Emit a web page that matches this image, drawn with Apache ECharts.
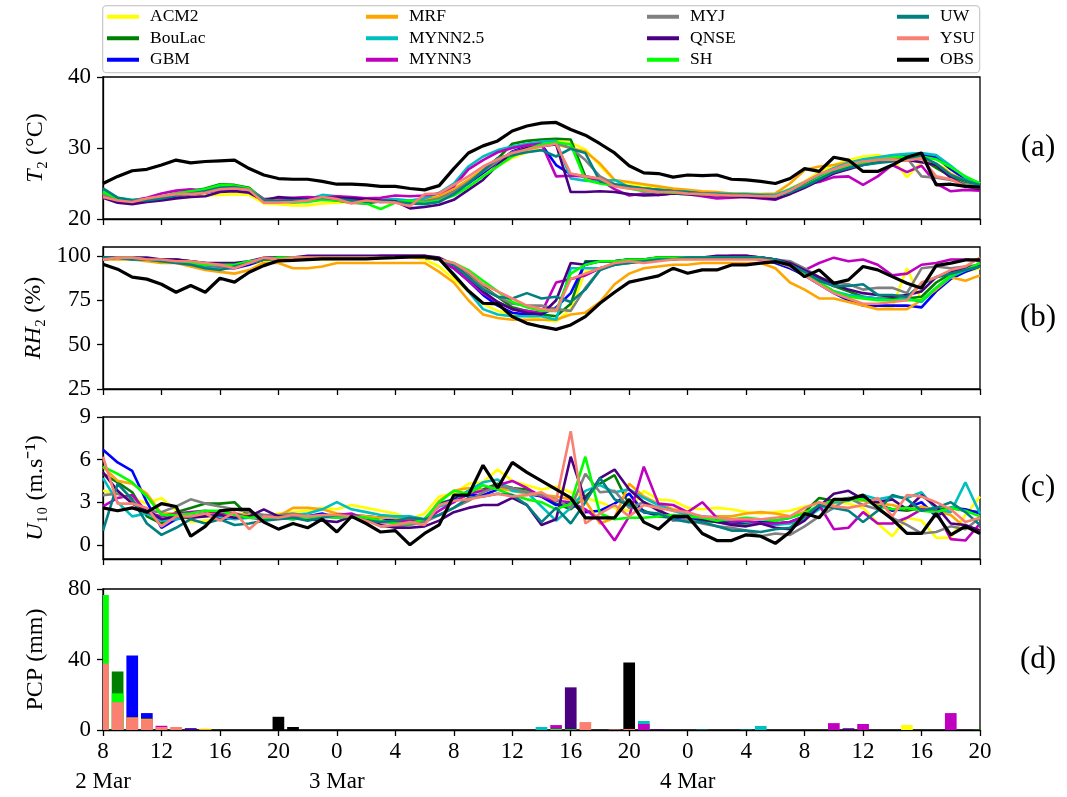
<!DOCTYPE html>
<html><head><meta charset="utf-8">
<script src="https://cdn.jsdelivr.net/npm/echarts@6/dist/echarts.min.js"></script>
<style>html,body{margin:0;padding:0;background:#fff}#c{width:1067px;height:797px}</style>
</head><body><div id="c"></div><script>
// ---------- data ----------
const hoursSinceStart = [0,1,2,3,4,5,6,7,8,9,10,11,12,13,14,15,16,17,18,19,20,21,22,23,24,25,26,27,28,29,30,31,32,33,34,35,36,37,38,39,40,41,42,43,44,45,46,47,48,49,50,51,52,53,54,55,56,57,58,59,60];
const xTickLabels = ['8','12','16','20','0','4','8','12','16','20','0','4','8','12','16','20'];
const dateLabels = {0:'2 Mar',16:'3 Mar',40:'4 Mar'};
const modelNames = ['ACM2','BouLac','GBM','MRF','MYNN2.5','MYNN3','MYJ','QNSE','SH','UW','YSU'];
const seriesColors = {'ACM2':'#ffff00','BouLac':'#008000','GBM':'#0000ff','MRF':'#ffa500','MYNN2.5':'#00bfbf','MYNN3':'#bf00bf','MYJ':'#808080','QNSE':'#4b0082','SH':'#00ff00','UW':'#008080','YSU':'#fa8072','OBS':'#000000'};

// T2 (°C)
const T_OBS = [25.0,26.0,26.8,27.0,27.6,28.3,27.9,28.1,28.2,28.3, 27.1,26.2,25.7,25.6,25.6,25.3,24.9,24.9,24.8,24.6, 24.6,24.3,24.1,24.7,27.1,29.3,30.3,31.0,32.4,33.1, 33.5,33.6,32.6,31.8,30.6,29.3,27.5,26.5,26.4,25.9, 26.2,26.1,26.2,25.6,25.5,25.3,25.0,25.7,27.1,26.7, 28.7,28.3,26.7,26.7,27.6,28.7,29.3,24.8,24.9,24.6, 24.5];
const T_ACM2 = [23.0,22.5,22.4,22.6,22.8,23.0,23.1,23.3,23.4,23.5, 23.4,22.2,22.1,21.9,21.9,22.2,22.3,22.4,22.5,22.6, 22.5,22.5,22.9,23.3,24.2,25.2,26.4,27.5,28.6,29.4, 30.2,31.0,30.7,29.8,27.5,25.4,25.0,24.6,24.3,24.1, 24.0,23.6,23.5,23.4,23.4,23.3,23.4,24.3,25.3,26.6, 27.6,28.3,28.8,29.0,28.5,25.9,28.0,27.6,27.0,25.8, 25.0];
const T_BouLac = [24.0,22.9,22.6,22.7,23.0,23.6,23.9,24.3,24.9,24.8, 24.4,22.6,22.7,22.4,22.5,22.8,22.6,22.3,22.2,22.5, 22.6,22.4,22.8,23.0,24.0,25.4,26.8,28.5,30.6,31.0, 31.2,31.3,31.2,26.0,25.3,24.8,24.5,24.3,24.1,24.0, 23.9,23.7,23.6,23.5,23.4,23.3,23.3,24.0,24.8,25.6, 26.5,27.4,27.8,28.0,28.2,28.3,28.5,27.2,26.0,25.2, 24.9];
const T_GBM = [23.3,22.6,22.4,22.6,22.8,23.2,23.5,23.7,24.1,24.1, 23.9,22.5,22.6,22.6,22.7,22.9,22.8,22.6,22.5,22.4, 22.5,22.3,22.2,23.0,23.9,25.0,26.5,28.0,29.5,30.2, 30.5,27.6,26.3,26.0,25.6,24.8,24.4,24.2,24.0,23.8, 23.7,23.6,23.5,23.4,23.3,23.3,23.2,23.8,24.8,25.9, 27.0,27.6,27.9,28.2,28.6,28.9,29.1,28.7,27.0,25.6, 24.9];
const T_MRF = [23.6,22.8,22.5,22.7,23.0,23.3,23.6,23.9,24.4,24.5, 24.2,22.6,22.5,22.4,22.6,22.9,22.8,22.6,22.5,22.5, 22.6,22.4,22.6,23.2,24.2,25.5,27.0,28.3,29.3,30.0, 30.4,30.5,30.0,29.5,27.8,25.5,25.2,24.9,24.6,24.3, 24.1,23.9,23.8,23.6,23.6,23.5,23.6,25.0,26.9,27.4, 27.6,28.0,28.3,28.6,28.7,28.7,28.5,27.8,26.4,25.4, 25.0];
const T_MYNN25 = [23.9,23.0,22.7,22.8,23.1,23.6,23.9,24.2,24.6,24.5, 24.3,22.8,22.6,22.5,22.7,23.4,23.2,22.8,22.6,22.7, 22.8,22.6,22.9,23.7,25.0,27.4,28.8,29.7,30.2,30.6, 30.9,31.0,25.7,25.4,25.3,25.5,24.5,24.3,24.1,23.9, 23.8,23.6,23.6,23.5,23.5,23.4,23.4,24.2,25.2,26.2, 27.2,27.9,28.4,28.7,29.0,29.2,29.3,29.0,27.5,25.8, 25.0];
const T_MYNN3 = [23.2,22.7,22.6,23.0,23.6,24.0,24.2,24.0,24.3,24.4, 24.2,22.8,22.9,23.0,23.1,23.0,23.2,23.1,22.9,23.0, 23.3,23.2,23.3,23.6,24.6,27.0,28.3,29.4,30.0,30.4, 30.6,26.0,26.1,26.0,25.5,24.2,23.3,23.6,23.4,23.6, 23.5,23.2,22.9,23.0,23.1,22.9,22.7,23.6,24.9,25.2, 25.9,26.0,24.8,26.0,27.6,26.6,27.5,25.0,23.9,24.1, 24.0];
const T_MYJ = [23.5,22.8,22.5,22.7,23.0,23.4,23.6,23.8,24.2,24.3, 24.0,22.7,22.6,22.5,22.6,22.9,22.7,22.5,22.4,22.6, 22.5,22.4,22.5,22.9,23.8,25.2,26.7,28.1,29.4,30.0, 30.4,30.7,30.0,28.3,26.0,24.9,24.5,24.2,24.0,23.9, 23.8,23.6,23.5,23.5,23.3,23.3,23.2,23.6,24.5,25.6, 26.6,27.3,27.8,28.1,28.4,28.6,26.0,25.8,25.5,24.9, 24.6];
const T_QNSE = [23.0,22.3,22.1,22.4,22.6,22.9,23.1,23.2,23.8,23.9, 23.7,22.6,23.1,22.9,22.8,22.8,23.0,22.9,22.8,22.6, 22.5,21.5,21.7,22.0,22.7,24.1,25.5,27.6,29.3,30.0, 30.3,30.5,23.8,23.8,23.9,23.8,23.5,23.3,23.4,23.6, 23.5,23.4,23.3,23.2,23.1,23.0,22.8,23.5,24.4,25.4, 26.4,27.0,27.6,28.0,28.4,28.3,28.0,27.6,25.8,24.6, 24.2];
const T_SH = [23.8,22.9,22.6,22.8,23.2,23.6,23.9,24.2,24.8,24.7, 24.3,22.6,22.5,22.3,22.4,22.7,22.6,22.4,22.2,21.4, 22.3,22.6,22.3,22.6,23.3,24.5,26.0,27.4,28.8,29.8, 30.5,30.8,30.5,25.5,25.0,24.7,24.3,23.9,23.8,23.7, 23.6,23.5,23.4,23.4,23.3,23.3,23.2,23.8,24.7,25.8, 26.8,27.5,27.9,28.3,28.6,28.8,28.8,28.4,27.3,26.0, 25.0];
const T_UW = [24.3,23.0,22.6,22.6,22.9,23.3,23.6,23.9,24.4,24.5, 24.1,22.6,22.5,22.6,22.7,23.0,22.8,22.6,22.4,22.5, 22.4,22.2,22.1,22.4,23.5,25.0,26.8,28.6,29.0,29.4, 29.7,28.8,29.9,29.3,25.3,24.9,24.6,24.3,24.1,23.9, 23.8,23.6,23.5,23.4,23.4,23.3,23.2,23.8,24.6,25.6, 26.6,27.2,27.6,27.9,28.1,28.4,28.8,27.8,26.2,25.4, 24.8];
const T_YSU = [23.1,22.6,22.4,22.9,23.2,23.5,23.5,23.7,24.2,24.3, 24.1,22.3,22.3,22.4,22.6,23.1,22.8,22.2,22.6,22.4, 22.3,21.8,23.5,23.6,24.8,26.0,27.4,28.4,29.3,29.8, 30.2,30.6,26.4,26.0,25.7,24.6,24.3,24.1,23.8,23.8, 23.6,23.5,23.4,23.3,23.3,23.2,23.2,24.0,25.2,26.3, 27.0,27.7,28.1,28.3,28.4,28.2,28.6,26.0,25.6,24.6, 24.4];

// RH2 (%)
const RH_OBS = [95.3,92.5,88.0,86.9,84.0,79.5,83.3,79.5,87.4,85.2, 90.8,94.5,97.2,97.5,97.9,98.3,98.3,98.3,98.3,98.7, 99.0,99.4,99.4,98.3,89.3,80.3,73.3,73.0,65.8,62.0, 60.1,58.6,61.1,65.8,73.3,79.5,85.2,87.0,88.7,93.0, 90.2,92.1,92.1,94.9,94.9,95.9,96.8,94.9,88.3,92.1, 84.6,86.5,94.0,92.1,88.3,84.6,81.8,94.5,95.9,97.7, 97.7];
const RH_ACM2 = [98,99,99,98,97,97,96,95,94,93, 95,97,98,98,98,98,98,99,99,99, 99,99,98,94,87,80,73,69,67,66, 64,63,70,91,93,95,96,97,98,98, 98,98,99,99,99,98,96,93,90,85, 80,76,73,72,71,93,75,80,88,91, 93];
const RH_BouLac = [99,99,99,98,98,98,97,96,95,95, 96,98,99,99,99,99,99,99,99,99, 99,99,99,98,95,90,83,77,71,69, 67,66,73,97,97,97,98,98,99,99, 99,99,99,99,99,98,97,94,91,87, 83,80,77,76,76,76,77,85,90,93, 95];
const RH_GBM = [99,99,99,98,97,97,96,94,93,93, 95,98,99,99,99,99,99,99,99,99, 99,99,99,98,93,86,78,72,68,67, 67,71,79,96,97,97,98,98,98,99, 99,99,99,99,99,98,96,93,89,84, 79,75,72,72,72,72,71,80,87,91, 94];
const RH_MRF = [98,98,98,97,96,96,94,92,91,90, 92,96,96,93,93,94,96,96,96,96, 96,96,96,91,85,75,67,65,64,64, 64,64,67,68,74,84,90,93,94,95, 95,96,96,96,96,96,93,85,81,76, 76,74,72,70,70,70,75,81,88,86, 89];
const RH_MYNN25 = [99,99,98,98,97,97,96,94,93,94, 96,98,99,99,99,99,99,99,99,99, 99,99,99,98,90,80,70,67,66,66, 66,64,93,93,93,95,96,97,98,98, 99,99,99,99,99,99,98,95,90,85, 80,78,77,76,75,76,74,82,88,92, 94];
const RH_MYNN3 = [98,99,99,98,98,97,96,95,94,95, 96,98,99,99,99,99,99,99,99,100, 100,100,100,98,93,86,79,74,70,69, 68,85,87,89,93,95,97,98,98,99, 99,99,99,100,100,99,98,96,92,96, 99,97,98,95,89,90,95,96,98,98, 97];
const RH_MYJ = [99,99,99,98,98,98,97,95,94,94, 96,98,99,99,99,99,99,99,99,99, 99,99,99,98,95,89,82,77,73,72, 72,70,69,82,92,96,97,97,98,98, 99,99,99,99,99,99,98,97,93,88, 85,84,81,82,82,79,93,94,93,94, 95];
const RH_QNSE = [99,99,99,99,98,98,97,96,96,96, 97,99,99,99,100,100,100,100,100,100, 100,100,100,99,95,88,80,74,70,68, 67,75,96,95,97,97,98,98,99,99, 99,99,100,100,100,99,98,96,92,88, 84,81,79,78,77,78,80,88,91,93, 95];
const RH_SH = [98,99,99,98,97,97,96,95,95,95, 97,98,99,99,99,99,99,99,99,99, 99,99,99,98,96,92,86,80,74,71, 69,69,90,95,97,97,98,98,99,99, 99,99,99,99,99,99,97,94,90,85, 80,77,76,75,75,75,75,82,89,92, 96];
const RH_UW = [99,99,98,98,97,96,95,93,92,94, 96,98,98,98,99,99,99,99,99,99, 99,99,99,98,95,88,81,77,76,79, 76,77,74,81,92,95,96,97,98,98, 99,99,99,99,99,99,98,95,91,86, 83,83,84,78,78,77,84,88,90,92, 94];
const RH_YSU = [98,99,99,98,98,97,97,96,95,93, 96,99,98,99,99,99,99,99,99,99, 99,99,99,98,96,91,84,80,76,72, 70,69,87,90,93,96,97,96,97,98, 98,98,98,98,98,98,97,94,89,84, 79,76,73,73,74,75,85,88,92,94, 99];

// U10 (m/s)
const U_OBS = [2.6,2.4,2.6,2.3,2.9,2.7,0.6,1.3,2.4,2.5, 2.5,1.6,1.1,1.5,1.2,1.8,0.9,2.0,1.5,0.9, 1.0,0.0,0.8,1.4,3.5,3.5,5.6,4.0,5.8,5.1, 4.5,3.9,3.3,1.9,1.9,1.9,3.2,1.6,1.1,2.0, 2.0,0.8,0.3,0.3,0.7,0.6,0.1,0.9,2.2,1.9, 3.2,3.2,3.5,2.6,1.8,0.8,0.8,2.2,0.7,1.3, 0.8];
const U_ACM2 = [3.8,3.6,3.3,2.9,3.3,2.4,1.6,1.7,1.8,2.1, 2.2,2.0,2.2,2.3,2.4,2.6,2.5,2.8,2.6,2.4, 2.2,1.8,2.2,3.4,3.6,4.3,4.4,5.3,4.5,4.2, 3.9,4.1,3.7,3.3,3.0,2.6,2.4,3.8,3.2,3.1, 2.6,2.5,2.6,2.5,2.3,2.2,2.3,2.4,2.7,2.9, 3.0,2.9,2.6,1.5,0.6,1.9,1.7,0.5,0.5,2.1, 3.4];
const U_BouLac = [5.0,4.4,3.7,2.0,1.5,2.3,2.6,2.9,2.9,3.0, 2.0,1.8,1.9,1.8,2.0,2.1,2.1,2.0,1.8,1.9, 1.9,1.7,1.8,2.9,3.2,3.8,3.9,4.3,4.0,3.9, 3.4,2.9,2.5,3.4,4.3,4.9,2.8,2.4,2.0,1.9, 1.9,1.7,1.6,1.5,1.5,1.5,1.7,1.9,2.3,3.3, 3.1,3.3,3.3,2.8,2.5,2.4,2.6,2.5,2.6,2.4, 2.3];
const U_GBM = [6.7,5.8,5.2,3.0,1.2,1.8,2.0,2.2,1.8,1.9, 2.0,1.9,2.0,2.1,2.0,2.2,1.9,2.1,2.0,1.9, 1.7,1.9,1.7,2.8,3.2,3.5,3.5,3.9,4.0,3.6, 3.4,2.8,2.9,2.3,2.4,2.9,3.6,2.3,2.1,1.9, 1.8,1.8,1.7,1.6,1.6,1.6,1.5,1.6,2.0,2.8, 3.0,3.2,3.3,2.9,2.4,2.6,3.0,2.0,2.6,2.5, 2.2];
const U_MRF = [5.5,4.5,4.3,3.6,2.2,2.2,1.9,2.1,2.4,2.2, 2.1,2.1,2.0,2.6,2.6,2.5,2.2,2.1,2.0,1.9, 1.9,1.8,1.7,3.1,3.8,4.0,3.8,4.0,3.8,3.6, 3.5,3.4,3.2,3.1,1.5,1.9,4.3,3.4,2.9,2.5, 2.3,1.9,2.0,2.0,2.2,2.3,2.2,2.0,2.3,2.6, 2.9,3.2,3.1,2.9,2.8,2.5,2.7,2.4,2.1,1.2, 1.1];
const U_MYNN25 = [4.7,3.0,2.0,2.2,1.7,1.8,2.0,2.1,2.0,1.8, 1.9,2.0,2.0,2.1,2.2,2.5,3.0,2.5,2.3,2.1, 2.0,2.0,1.8,2.7,3.0,3.8,4.4,4.6,3.8,3.7, 2.7,1.7,2.6,3.8,4.2,3.7,3.9,3.3,2.8,2.4, 2.1,2.0,1.9,1.8,1.6,1.5,1.4,1.5,1.8,2.5, 3.0,3.1,3.5,3.2,3.4,3.3,3.7,2.5,2.3,4.4, 2.2];
const U_MYNN3 = [2.7,3.3,3.5,2.3,2.0,2.2,2.3,2.4,2.2,2.2, 1.9,1.8,2.0,1.9,1.9,2.0,2.1,2.2,1.8,1.6, 1.6,1.7,1.7,2.4,3.0,3.6,3.8,4.2,4.5,4.0, 3.4,3.1,3.0,2.5,1.7,0.3,2.0,5.5,2.9,2.8, 2.3,3.0,1.9,1.6,1.7,1.5,1.5,1.6,2.0,2.8, 1.1,1.2,2.3,1.5,1.5,1.9,2.5,2.4,0.4,0.3, 1.5];
const U_MYJ = [3.5,3.6,3.1,2.4,2.3,2.7,3.2,2.9,2.7,2.5, 2.3,2.1,2.1,2.2,2.0,2.0,1.9,2.0,1.8,1.3, 1.3,1.4,1.6,2.1,2.6,3.1,3.7,4.1,4.0,3.7, 3.5,3.2,2.6,5.0,3.7,3.8,2.6,3.0,2.6,1.7, 1.8,1.5,1.3,1.2,1.0,0.6,0.8,0.7,1.3,2.0, 2.6,3.3,2.8,2.5,1.9,1.4,0.8,0.9,1.3,1.1, 1.9];
const U_QNSE = [5.1,3.8,2.9,2.4,1.8,2.0,1.9,2.0,2.1,1.9, 2.0,2.5,2.0,1.9,1.8,1.7,1.6,2.0,1.8,1.4, 1.2,1.2,1.3,1.7,2.3,2.6,2.8,2.8,3.3,2.8, 1.4,1.8,6.2,3.1,4.7,5.3,3.9,3.0,2.4,2.0, 2.0,1.8,1.6,1.4,1.3,1.5,1.2,1.1,1.7,2.7, 3.6,3.8,3.2,3.0,3.2,2.5,3.5,2.7,1.5,1.4, 1.0];
const U_SH = [5.5,5.0,4.4,3.4,2.1,2.1,2.2,2.4,2.4,2.1, 1.9,1.9,1.9,1.8,1.9,2.0,1.9,2.0,1.9,1.7, 1.5,1.5,1.8,3.0,3.8,3.6,4.2,3.9,3.5,3.2, 3.0,2.5,2.9,6.2,2.2,1.8,1.9,1.9,2.0,2.1, 2.0,1.9,1.7,1.8,1.9,1.8,1.7,1.9,2.2,2.8, 3.1,3.2,3.2,2.7,2.5,2.6,2.4,2.3,2.6,2.4, 2.0];
const U_UW = [1.0,4.3,3.2,1.5,0.7,1.2,1.8,1.5,1.8,1.4, 1.5,1.7,1.8,1.9,1.7,1.9,2.1,2.0,1.7,1.6, 1.7,1.9,1.8,2.1,2.6,3.3,3.4,3.6,3.5,2.8, 1.6,2.6,1.5,3.0,4.7,3.2,2.8,2.3,2.2,1.8, 1.6,1.6,1.3,1.0,1.0,0.9,1.1,1.2,2.0,2.8, 2.6,2.4,1.6,2.4,3.5,3.2,2.4,2.6,3.0,2.3, 1.4];
const U_YSU = [6.2,2.9,2.9,2.6,1.3,2.0,2.0,2.2,1.7,2.3, 1.1,2.0,1.9,2.1,2.0,2.1,2.1,2.0,1.7,1.3, 1.4,1.6,1.4,2.8,3.1,3.2,3.4,3.6,3.4,3.5, 3.7,3.1,8.0,1.5,2.2,2.8,2.0,2.8,2.6,2.4, 2.3,2.0,1.9,1.8,1.8,1.8,1.9,2.0,2.6,3.0, 2.7,2.6,2.8,3.3,2.0,3.5,3.4,3.0,2.5,1.6, 1.9];

// PCP (mm)
const P_OBS = [0,0,0,0,0,0,0,0,0,0, 0,0,7.5,1.7,0,0,0,0,0,0, 0,0,0,0,0,0,0,0,0,0, 0,0,0,0,0,0,38.3,0,0,0, 0,0,0,0,0,0,0,0,0,0, 0,0,0,0,0,0,0,0,0,0, 0];
const P_ACM2 = [0,0,0,0,0,0,0,0.8,0,0, 0,0,0,0,0,0,0,0,0,0, 0,0,0,0,0,0,0,0,0,0, 0,0,0,0,0,0,0,0,0,0, 0,0,0,0,0,0,0,0,0,0, 0,0,0,0,0,2.8,0,0,0,0, 0];
const P_BouLac = [0,33.2,0,0,0,0,0,0,0,0, 0,0,0,0,0,0,0,0,0,0, 0,0,0,0,0,0,0,0,0,0, 0,0,0,0,0,0,0,0,0,0, 0,0,0,0,0,0,0,0,0,0, 0,0,0,0,0,0,0,0,0,0, 0.4];
const P_GBM = [0,0,42.3,9.6,0,0,1.0,0,0,0, 0,0,0,0,0,0,0,0,0,0, 0,0,0,0,0,0,0,0,0,0, 0,0,0,0,0,0,0,0,0,0, 0,0,0,0,0,0,0,0,0,0, 0,0,0,0,0,0,0,0,0,0, 0];
const P_MRF = [0,0,7.2,6.4,0,0,0,0.6,0,0, 0,0,0,0,0,0,0,0,0,0, 0,0,0,0,0,0,0,0,0,0, 0,0,0,0,0,0,0,0,0,0, 0,0,0,0,0,0,0,0,0,0, 0,0,0,0,0,0,0,0,0,0, 0];
const P_MYNN25 = [0,0,0,0,0,0,0,0,0,0, 0,0,0,0,0,0,0,0,0,0, 0,0,0,0,0,0,0,0,0,0, 1.7,0,0,0,0,0,0,5.1,0,0, 0,0,0,0,0,2.3,0,0,0,0, 0,0,0,0,0,0,0,0,0,0, 0];
const P_MYNN3 = [0,0,0,0,2.4,0,0,0,0,0, 0,0,0,0,0,0,0,0,0,0, 0,0,0,0,0,0,0,0,0,0, 0,2.8,0,0,0,0,0,3.4,0,0, 0,0,0,0,0,0,0,0,0,0, 3.9,0,3.4,0,0,0,0,0,9.6,0, 0];
const P_MYJ = [0,0,0,0,0,0,0,0,0,0, 0,0,0,0,0,0,0,0,0,0, 0,0,0,0,0,0,0,0,0,0, 0,0,0,0,0,0,0,0,0,0, 0,0,0,0,0,0,0,0,0,0, 0,0,0,0,0,0,0,0,0,0, 0];
const P_QNSE = [0,0,0,0,0,0,0.8,0,0,0, 0,0,0,0,0,0,0,0,0,0, 0,0,0,0,0,0,0,0,0,0, 0,0,24.2,0,0,0,0,0,0.4,0, 0,0,0,0,0,0,0,0,0,0, 0,1.0,0,0,0,0,0,0,0,0, 0];
const P_SH = [76.6,20.8,0,0,0,0,0,0,0,0, 0,0,0,0,0,0,0,0,0,0, 0,0,0,0,0,0,0,0,0,0, 0,0.6,0.4,0,0,0,0,0,0,0, 0,0,0,0,0,0,0,0,0,0, 0,0,0,0,0,0,0,0,0,0, 0];
const P_UW = [0,0,0,0,0,0,0,0,0,0, 0,0,0,0,0,0,0,0,0,0, 0,0,0,0,0,0,0,0,0,0, 0,0,0,0,0,0,0,0,0,0, 0,0.4,0,0,0.4,0,0,0,0,0, 0,0,0,0,0,0,0,0,0,0, 0];
const P_YSU = [37.7,15.8,6.5,5.6,1.7,1.7,0,0,0,0, 0,0,0,0,0,0,0,0,0,0, 0,0,0,0,0,0,0,0,0,0, 0,0,0,4.5,0,0.3,0.6,0,0,0, 0,0,0,0,0,0,0,0,0,0, 0,0,0,0,0,0,0,0,0,0, 0];

const tData = {'ACM2':T_ACM2,'BouLac':T_BouLac,'GBM':T_GBM,'MRF':T_MRF,'MYNN2.5':T_MYNN25,'MYNN3':T_MYNN3,'MYJ':T_MYJ,'QNSE':T_QNSE,'SH':T_SH,'UW':T_UW,'YSU':T_YSU,'OBS':T_OBS};
const rhData = {'ACM2':RH_ACM2,'BouLac':RH_BouLac,'GBM':RH_GBM,'MRF':RH_MRF,'MYNN2.5':RH_MYNN25,'MYNN3':RH_MYNN3,'MYJ':RH_MYJ,'QNSE':RH_QNSE,'SH':RH_SH,'UW':RH_UW,'YSU':RH_YSU,'OBS':RH_OBS};
const uData = {'ACM2':U_ACM2,'BouLac':U_BouLac,'GBM':U_GBM,'MRF':U_MRF,'MYNN2.5':U_MYNN25,'MYNN3':U_MYNN3,'MYJ':U_MYJ,'QNSE':U_QNSE,'SH':U_SH,'UW':U_UW,'YSU':U_YSU,'OBS':U_OBS};
const pData = {'ACM2':P_ACM2,'BouLac':P_BouLac,'GBM':P_GBM,'MRF':P_MRF,'MYNN2.5':P_MYNN25,'MYNN3':P_MYNN3,'MYJ':P_MYJ,'QNSE':P_QNSE,'SH':P_SH,'UW':P_UW,'YSU':P_YSU,'OBS':P_OBS};

// ---------- chart ----------
const FONT = 'Liberation Serif';
const TICK_FS = 23;
const BAR_HALF = 0.4; // bar half-width in hours
const chart = echarts.init(document.getElementById('c'), null, {renderer:'canvas'});
const gridTops = [77, 247, 417, 589];
const grids = gridTops.map(t => ({left:103, right:87, top:t, height:142, show:true, borderColor:'#000', borderWidth:1.3, backgroundColor:'rgba(0,0,0,0)'}));

const xAxes = gridTops.map((t,i) => ({
  type:'value', gridIndex:i, min:0, max:60, interval:4,
  axisLine:{show:true, onZero:false, lineStyle:{color:'#000', width:1.3}},
  axisTick:{show:true, length:6, lineStyle:{color:'#000', width:1.3}},
  splitLine:{show:false},
  axisLabel:{show:i===3, color:'#000', fontFamily:FONT, fontSize:TICK_FS, margin:7, lineHeight:30,
    formatter:(v)=>{const k=Math.round(v/4); let s=xTickLabels[k]; if(dateLabels[v]!==undefined) s+='\n'+dateLabels[v]; return s;}}
}));

const yDefs = [
  {min:20,max:40,ticks:[20,30,40],name:'{it|T}₂ (°C)'},
  {min:25,max:105,ticks:[25,50,75,100],name:'{it|RH}₂ (%)'},
  {min:-1,max:9,ticks:[0,3,6,9],name:'{it|U}₁₀ (m.s⁻¹)'},
  {min:0,max:80,ticks:[0,40,80],name:'PCP (mm)'}
];
const yAxes = yDefs.map((d,i) => ({
  type:'value', gridIndex:i, min:d.min, max:d.max,
  name:d.name, nameLocation:'middle', nameGap:55,
  nameTextStyle:{color:'#000', fontFamily:FONT, fontSize:24, rich:{it:{fontStyle:'italic', fontFamily:FONT, fontSize:24, color:'#000'}}},
  axisLine:{show:true, onZero:false, lineStyle:{color:'#000', width:1.3}},
  axisTick:{show:true, length:6, customValues:d.ticks, lineStyle:{color:'#000', width:1.3}},
  axisLabel:{show:true, customValues:d.ticks, color:'#000', fontFamily:FONT, fontSize:TICK_FS, margin:12},
  splitLine:{show:false}
}));

const allNames = modelNames.concat(['OBS']);
const series = [];
[tData, rhData, uData].forEach((dataset, gi) => {
  allNames.forEach(name => {
    series.push({
      type:'line', name:name, xAxisIndex:gi, yAxisIndex:gi,
      data: dataset[name].map((v,k)=>[hoursSinceStart[k], v]),
      symbol:'none', showSymbol:false,
      lineStyle:{color:seriesColors[name], width: name==='OBS'?3.2:2.6},
      itemStyle:{color:seriesColors[name]},
      z: 2, animation:false, clip:true
    });
  });
});
// bars (custom so that they are clipped at the plot edge): OBS first, then models
['OBS'].concat(modelNames).forEach(name => {
  const col = seriesColors[name];
  series.push({
    type:'custom', name:name, xAxisIndex:3, yAxisIndex:3,
    data: pData[name].map((v,k)=>[hoursSinceStart[k], v]),
    encode:{x:0, y:1},
    itemStyle:{color:col},
    animation:false,
    renderItem:(params, api) => {
      const x = api.value(0), v = api.value(1);
      if (!v) return null;
      const p1 = api.coord([x - BAR_HALF, v]);
      const p2 = api.coord([x + BAR_HALF, 0]);
      const cs = params.coordSys;
      const r = echarts.graphic.clipRectByRect(
        {x:p1[0], y:p1[1], width:p2[0]-p1[0], height:p2[1]-p1[1]},
        {x:cs.x, y:cs.y, width:cs.width, height:cs.height});
      if (!r) return null;
      return {type:'rect', shape:r, style:{fill:col}};
    }
  });
});

const legendCols = [['ACM2','BouLac','GBM'],['MRF','MYNN2.5','MYNN3'],['MYJ','QNSE','SH'],['UW','YSU','OBS']];
const legendLefts = [107, 366, 647, 897];
const legends = legendCols.map((col,i) => ({
  data: col, left: legendLefts[i], top: 6, padding:0, orient:'vertical', icon:'rect',
  itemWidth:32, itemHeight:4, itemGap:0, selectedMode:false,
  textStyle:{fontFamily:FONT, fontSize:17.5, color:'#000', lineHeight:21.5, padding:[0,0,0,6]}
}));

const panelLabels = ['(a)','(b)','(c)','(d)'];
const graphics = [
  {type:'rect', left:102, top:5, shape:{width:877, height:67, r:4}, style:{fill:'rgba(255,255,255,0.8)', stroke:'#cccccc', lineWidth:1.3}, z:-10}
].concat(panelLabels.map((s,i)=>({
  type:'text', x:1038, y:gridTops[i]+71, style:{text:s, fontFamily:FONT, fontSize:31, fill:'#000', align:'center', verticalAlign:'middle'}
})));

chart.setOption({
  animation:false,
  backgroundColor:'#fff',
  grid: grids, xAxis: xAxes, yAxis: yAxes,
  legend: legends, graphic: graphics, series: series
});
</script></body></html>
